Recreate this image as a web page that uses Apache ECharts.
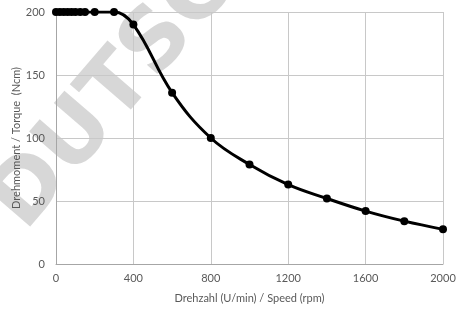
<!DOCTYPE html>
<html lang="en">
<head>
  <meta charset="UTF-8">
  <script src="https://cdn.jsdelivr.net/npm/echarts@6/dist/echarts.min.js"></script>
  <title>torque curve</title>
  <style>
    html, body { margin: 0; padding: 0; background: #fff; }
  </style>
</head>
<body>
<div id="chart" style="width: 460px; height: 312px;"></div>
<script type="text/javascript">
  // speed (rpm) and torque (Ncm)
  let speed  = [0, 20, 40, 60, 80, 100, 125, 150, 200, 300, 400, 600, 800, 1000, 1200, 1400, 1600, 1800, 2000];
  let torque = [200, 200, 200, 200, 200, 200, 200, 200, 200, 200, 190, 136, 100, 79, 63, 52, 42, 34, 27.5];
  let xTicks = [0, 400, 800, 1200, 1600, 2000];
  let yTicks = [0, 50, 100, 150, 200];

  let font = 'Lato, "Open Sans", sans-serif';
  let grey = '#595959';

  let points = speed.map(function (s, i) { return [s, torque[i]]; });

  let myChart = echarts.init(document.getElementById('chart'));
  myChart.setOption({
    animation: false,
    grid: { left: 56, right: 17, top: 12, bottom: 48, outerBoundsMode: 'none', containLabel: false },
    graphic: [
      {
        type: 'text',
        x: 8, y: 218,
        rotation: 0.86,
        z: -10,
        silent: true,
        style: {
          text: 'DUTSCH',
          font: 'bold 86px "DejaVu Sans", sans-serif',
          fill: 'rgba(200,200,200,0.72)',
          verticalAlign: 'middle'
        }
      }
    ],
    xAxis: {
      type: 'value',
      min: xTicks[0],
      max: xTicks[xTicks.length - 1],
      interval: 400,
      name: 'Drehzahl (U/min) / Speed (rpm)',
      nameLocation: 'middle',
      nameGap: 29,
      nameMoveOverlap: false,
      nameTextStyle: { color: grey, fontSize: 11, fontFamily: font },
      axisLine: { lineStyle: { color: '#a6a6a6' } },
      axisTick: { show: false },
      axisLabel: { color: grey, fontSize: 11, fontFamily: font, margin: 9, formatter: function (v) { return String(v); } },
      splitLine: { lineStyle: { color: '#c8c8c8', width: 1 } }
    },
    yAxis: {
      type: 'value',
      min: yTicks[0],
      max: yTicks[yTicks.length - 1],
      interval: 50,
      name: 'Drehmoment / Torque  (Ncm)',
      nameLocation: 'middle',
      nameGap: 34,
      nameMoveOverlap: false,
      nameTextStyle: { color: grey, fontSize: 11, fontFamily: font },
      axisLine: { show: true, lineStyle: { color: '#a6a6a6' } },
      axisTick: { show: false },
      axisLabel: { color: grey, fontSize: 11, fontFamily: font, margin: 11 },
      splitLine: { lineStyle: { color: '#c8c8c8', width: 1 } }
    },
    series: [
      {
        type: 'line',
        data: points,
        smooth: 0.4,
        symbol: 'circle',
        symbolSize: 8,
        itemStyle: { color: '#000' },
        lineStyle: { color: '#000', width: 3 }
      }
    ]
  });
</script>
</body>
</html>
